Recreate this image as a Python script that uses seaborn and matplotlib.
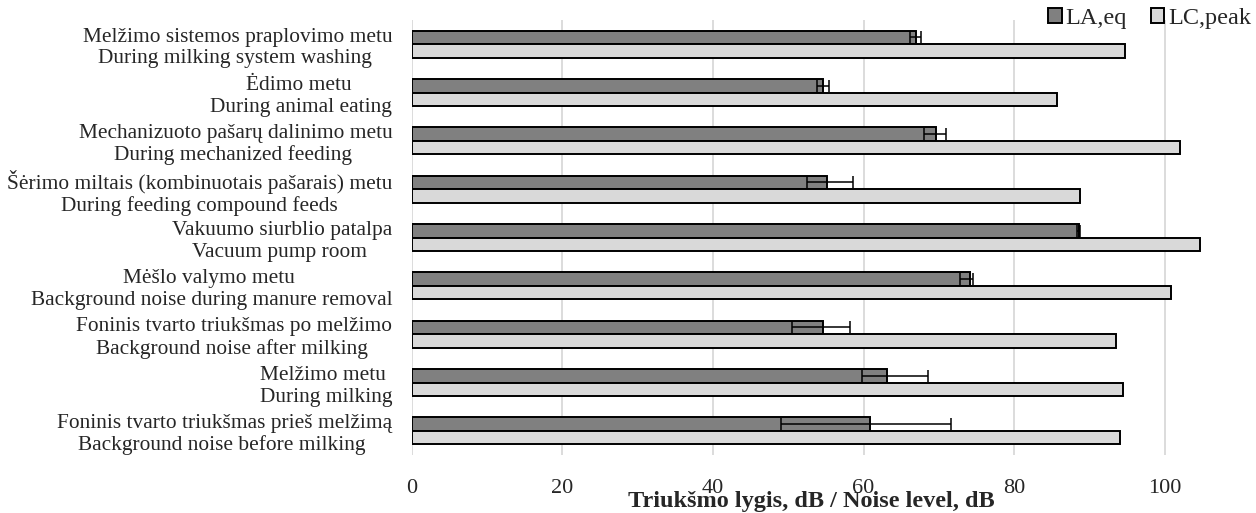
import matplotlib
matplotlib.use("Agg")
import pandas as pd
import matplotlib.pyplot as plt
import seaborn as sns

# categories (top to bottom): Lithuanian / English
lt_labels = [
    "Melžimo sistemos praplovimo metu",
    "Ėdimo metu ",
    "Mechanizuoto pašarų dalinimo metu",
    "Šėrimo miltais (kombinuotais pašarais) metu",
    "Vakuumo siurblio patalpa",
    "Mėšlo valymo metu ",
    "Foninis tvarto triukšmas po melžimo",
    "Melžimo metu ",
    "Foninis tvarto triukšmas prieš melžimą",
]
en_labels = [
    "During milking system washing ",
    "During animal eating",
    "During mechanized feeding ",
    "During feeding compound feeds",
    "Vacuum pump room ",
    "Background noise during manure removal",
    "Background noise after milking ",
    "During milking",
    "Background noise before milking ",
]

series_names = ["LA,eq", "LC,peak"]
la_eq = [67.0, 54.6, 69.6, 55.2, 88.6, 74.1, 54.6, 63.1, 60.9]
la_err_low = [0.8, 0.8, 1.5, 2.7, 0.2, 1.3, 4.1, 3.3, 11.8]
la_err_high = [0.7, 0.8, 1.3, 3.4, 0.2, 0.5, 3.6, 5.4, 10.7]
lc_peak = [94.7, 85.7, 102.0, 88.7, 104.7, 100.9, 93.5, 94.5, 94.1]

x_ticks = [0, 20, 40, 60, 80, 100]

categories = [f"{a}\n{b}" for a, b in zip(lt_labels, en_labels)]
df = pd.DataFrame({
    "category": categories * 2,
    "series": [series_names[0]] * len(la_eq) + [series_names[1]] * len(lc_peak),
    "value": la_eq + lc_peak,
})

sns.set_style("whitegrid")
plt.rcParams["font.family"] = ["Liberation Serif", "DejaVu Serif"]

fig, ax = plt.subplots(figsize=(12.56, 5.13), dpi=100)
fig.subplots_adjust(left=411.7 / 1256, right=1240 / 1256, top=1 - 20 / 513, bottom=1 - 455 / 513)

sns.barplot(data=df, y="category", x="value", hue="series", orient="h",
            palette=["#808080", "#d9d9d9"], edgecolor="black", linewidth=1.4,
            width=0.56, gap=0, errorbar=None, ax=ax)

# error bars on LA,eq, placed at the centres of seaborn's own bars
la_bars = ax.containers[0]
ys = [p.get_y() + p.get_height() / 2 for p in la_bars]
ax.errorbar(la_eq, ys, xerr=[la_err_low, la_err_high], fmt="none",
            ecolor="black", elinewidth=1.1, capsize=4.3, capthick=1.1, zorder=5)

ax.set_xlim(0, 110)
ax.set_ylim(8.5, -0.5)
ax.set_xticks(x_ticks)
ax.set_xticklabels([str(t) for t in x_ticks])
ax.grid(axis="x", color="#d9d9d9", linewidth=1.3)
ax.grid(axis="y", visible=False)
for s in ax.spines.values():
    s.set_visible(False)

ax.tick_params(axis="x", length=0, pad=17, labelsize=16)
ax.tick_params(axis="y", length=0, pad=14, labelsize=15.4)
for lbl in ax.get_yticklabels():
    lbl.set_multialignment("center")
    lbl.set_linespacing(1.18)

ax.set_ylabel("")
ax.set_xlabel("Triukšmo lygis, dB / Noise level, dB", fontsize=17.5, fontweight="bold")
ax.xaxis.set_label_coords(0.482, -0.106)
ax.xaxis.label.set_va("center")

ax.legend(loc="upper right", bbox_to_anchor=(1.0, 1 - 3 / 513), bbox_transform=fig.transFigure,
          ncol=2, frameon=False, fontsize=17.5, handlelength=0.55, handleheight=0.55,
          handletextpad=0.15, columnspacing=1.0, borderaxespad=0.1, borderpad=0.1)

fig.savefig("out.png", dpi=100)
